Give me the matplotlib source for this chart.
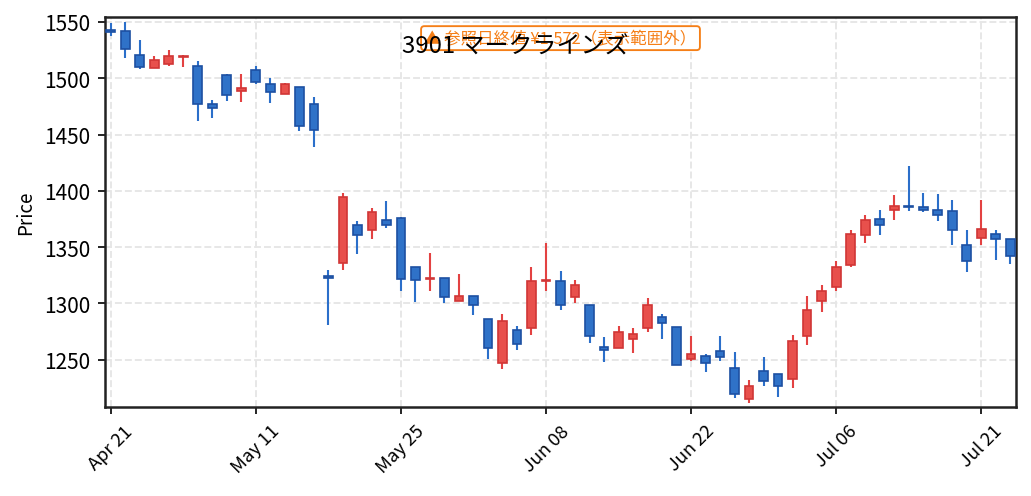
import matplotlib
matplotlib.use("Agg")
import matplotlib.pyplot as plt
import numpy as np

plt.rcParams['font.family'] = ['Noto Sans CJK JP', 'DejaVu Sans']

# trading days (2022), one candle each
dates = [
    "2022-04-21", "2022-04-22", "2022-04-25", "2022-04-26", "2022-04-27", "2022-04-28",
    "2022-05-02", "2022-05-06", "2022-05-09", "2022-05-10", "2022-05-11", "2022-05-12",
    "2022-05-13", "2022-05-16", "2022-05-17", "2022-05-18", "2022-05-19", "2022-05-20",
    "2022-05-23", "2022-05-24", "2022-05-25", "2022-05-26", "2022-05-27", "2022-05-30",
    "2022-05-31", "2022-06-01", "2022-06-02", "2022-06-03", "2022-06-06", "2022-06-07",
    "2022-06-08", "2022-06-09", "2022-06-10", "2022-06-13", "2022-06-14", "2022-06-15",
    "2022-06-16", "2022-06-17", "2022-06-20", "2022-06-21", "2022-06-22", "2022-06-23",
    "2022-06-24", "2022-06-27", "2022-06-28", "2022-06-29", "2022-06-30", "2022-07-01",
    "2022-07-04", "2022-07-05", "2022-07-06", "2022-07-07", "2022-07-08", "2022-07-11",
    "2022-07-12", "2022-07-13", "2022-07-14", "2022-07-15", "2022-07-19", "2022-07-20",
    "2022-07-21", "2022-07-22", "2022-07-25",
]

opens = [1543, 1542, 1521, 1509, 1513, 1519, 1511, 1477, 1503, 1489, 1507, 1495,
         1486, 1492, 1477, 1324, 1336, 1370, 1365, 1374, 1376, 1332, 1322, 1323,
         1302, 1307, 1286, 1247, 1276, 1278, 1320, 1320, 1306, 1299, 1261, 1260,
         1268, 1278, 1288, 1279, 1251, 1253, 1258, 1243, 1215, 1240, 1237, 1233,
         1271, 1302, 1315, 1334, 1361, 1375, 1383, 1387, 1386, 1383, 1382, 1352,
         1358, 1362, 1357]
closes = [1541, 1526, 1510, 1516, 1520, 1520, 1477, 1474, 1485, 1491, 1497, 1488,
          1495, 1458, 1454, 1323, 1395, 1361, 1381, 1370, 1322, 1321, 1323, 1306,
          1307, 1299, 1260, 1284, 1264, 1320, 1321, 1299, 1316, 1271, 1259, 1275,
          1273, 1299, 1283, 1245, 1255, 1247, 1252, 1220, 1227, 1231, 1227, 1267,
          1294, 1311, 1332, 1362, 1374, 1370, 1387, 1386, 1383, 1379, 1365, 1338,
          1366, 1357, 1342]
highs = [1549, 1550, 1534, 1520, 1525, 1521, 1515, 1481, 1504, 1504, 1511, 1500,
         1496, 1492, 1483, 1330, 1398, 1373, 1385, 1391, 1377, 1332, 1345, 1323,
         1326, 1307, 1286, 1291, 1280, 1332, 1354, 1329, 1321, 1299, 1270, 1280,
         1278, 1305, 1291, 1279, 1271, 1255, 1271, 1257, 1232, 1252, 1237, 1272,
         1307, 1316, 1338, 1365, 1379, 1383, 1396, 1422, 1398, 1397, 1392, 1365,
         1392, 1365, 1357]
lows = [1538, 1518, 1508, 1509, 1511, 1510, 1462, 1465, 1480, 1479, 1495, 1478,
        1486, 1453, 1439, 1281, 1330, 1344, 1357, 1367, 1311, 1301, 1311, 1300,
        1302, 1290, 1251, 1242, 1259, 1272, 1311, 1294, 1300, 1265, 1248, 1260,
        1256, 1275, 1268, 1245, 1249, 1239, 1249, 1216, 1212, 1227, 1217, 1225,
        1263, 1292, 1311, 1332, 1354, 1361, 1374, 1382, 1381, 1373, 1352, 1328,
        1352, 1339, 1335]

title = "3901 マークラインズ"
note = "▲ 参照日終値 ¥1,572（表示範囲外）"

up_fill, up_edge = "#e8504c", "#d13636"
dn_fill, dn_edge = "#2f72c8", "#1d50a2"

x = np.arange(len(dates))
o = np.array(opens)
c = np.array(closes)
up = c >= o

fig = plt.figure(figsize=(10.31 / 1.5, 4.97 / 1.5), dpi=150)
ax = fig.add_axes([0.1018, 0.179, 0.8837, 0.7838])

# wicks behind bodies
ax.vlines(x[up], np.array(lows)[up], np.array(highs)[up], color="#e34242", lw=1.0, zorder=2)
ax.vlines(x[~up], np.array(lows)[~up], np.array(highs)[~up], color="#2b6fca", lw=1.0, zorder=2)

bottoms = np.minimum(o, c)
heights = np.maximum(np.abs(c - o), 0.8)
ax.bar(x[up], heights[up], bottom=bottoms[up], width=0.6,
       color=up_fill, edgecolor=up_edge, linewidth=0.8, zorder=3)
ax.bar(x[~up], heights[~up], bottom=bottoms[~up], width=0.6,
       color=dn_fill, edgecolor=dn_edge, linewidth=0.8, zorder=3)

ax.set_xlim(-0.4, 62.4)
ax.set_ylim(1208, 1554)

months = ["Jan", "Feb", "Mar", "Apr", "May", "Jun", "Jul"]
tick_pos = x[::10]
tick_labels = [months[int(d[5:7]) - 1] + " " + d[8:10] for d in dates[::10]]
ax.set_xticks(tick_pos)
ax.set_xticklabels(tick_labels, rotation=45, fontsize=8.8)
ax.set_yticks([1250, 1300, 1350, 1400, 1450, 1500, 1550])
ax.tick_params(axis="y", labelsize=10)
ax.set_ylabel("Price", fontsize=9)

ax.grid(True, linestyle="--", color="#e6e6e6", linewidth=0.9, zorder=0)
ax.set_axisbelow(True)
for s in ax.spines.values():
    s.set_color("#222222")
    s.set_linewidth(1.2)

ax.text(0.5, 0.947, note, transform=ax.transAxes, ha="center", va="center",
        fontsize=7.9, color="#f57f17", zorder=5,
        bbox=dict(boxstyle="round,pad=0.2", fc="white", ec="#f57f17", lw=0.9))
fig.text(0.5, 0.905, title, ha="center", va="center", fontsize=11.5, color="black", zorder=6)

fig.savefig("out.png", dpi=150)
